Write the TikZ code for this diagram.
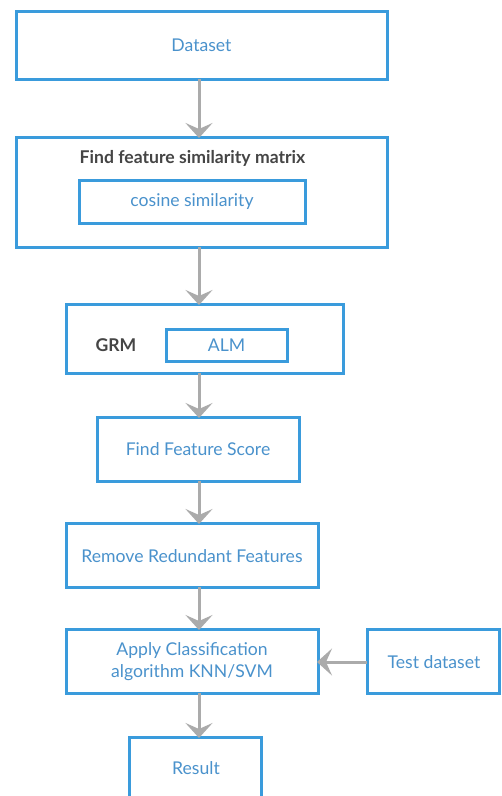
\documentclass[tikz,border=0pt]{standalone}
\usepackage{fontspec}
\setmainfont{Lato}
\usetikzlibrary{arrows.meta}
\definecolor{boxblue}{HTML}{3A9BDC}
\definecolor{txtblue}{HTML}{4A92CC}
\definecolor{darktxt}{HTML}{454545}
\definecolor{arrgray}{HTML}{ABABAB}
\tikzset{
  box/.style={draw=boxblue, line width=3pt, fill=white},
  lbl/.style={text=txtblue, font=\fontsize{17.6}{22}\selectfont, align=center},
  dlbl/.style={text=darktxt, font=\fontsize{17.6}{22}\selectfont\bfseries},
  flow/.style={draw=arrgray, line width=3pt, -{Stealth[length=15pt,width=27pt,inset=6pt]}, shorten >=-1pt}
}
\begin{document}
\begin{tikzpicture}[x=1pt,y=-1pt]
\useasboundingbox (0,0) rectangle (502,796);
\begin{scope}
\clip (0,0) rectangle (502,796);
% boxes
\draw[box] (16,11) rectangle (387,79);
\node[lbl] (ds) at (201.5,45) {Dataset};
\coordinate (dsb) at (199,79);

\draw[box] (16,137) rectangle (387,247);
\coordinate (fst) at (199,137);
\coordinate (fsb) at (199,247);
\node[dlbl] (fsm) at (192.5,158) {Find feature similarity matrix};
\draw[box] (79,180) rectangle (305,223);
\node[lbl] (cos) at (192,201.5) {cosine similarity};

\draw[box] (66,304) rectangle (343,373);
\coordinate (grt) at (199,304);
\coordinate (grb) at (199,373);
\node[dlbl] (grm) at (116,345) {GRM};
\draw[box] (166,329) rectangle (287,361);
\node[lbl] (alm) at (226.5,345) {ALM};

\draw[box] (97,417) rectangle (299,481);
\coordinate (ffst) at (199,417);
\coordinate (ffsb) at (199,481);
\node[lbl] (ffs) at (198,449) {Find Feature Score};

\draw[box] (66,523) rectangle (318,587);
\coordinate (rrt) at (199,523);
\coordinate (rrb) at (199,587);
\node[lbl] (rrf) at (192,556) {Remove Redundant Features};

\draw[box] (66,629) rectangle (318,693);
\coordinate (act) at (199,629);
\coordinate (acb) at (199,693);
\coordinate (acr) at (318,662);
\node[lbl] (acl) at (192,662) {Apply Classification\\algorithm KNN/SVM};

\draw[box] (367,629) rectangle (499,693);
\coordinate (tdl) at (367,662);
\node[lbl] (td) at (434,662) {Test dataset};

\draw[box] (129,737) rectangle (261,810);
\coordinate (rst) at (199,737);
\node[lbl] (res) at (196,768) {Result};

% arrows
\draw[flow] (dsb) -- (fst);
\draw[flow] (fsb) -- (grt);
\draw[flow] (grb) -- (ffst);
\draw[flow] (ffsb) -- (rrt);
\draw[flow] (rrb) -- (act);
\draw[flow] (acb) -- (rst);
\draw[flow] (tdl) -- (acr);
\end{scope}
\end{tikzpicture}
\end{document}
